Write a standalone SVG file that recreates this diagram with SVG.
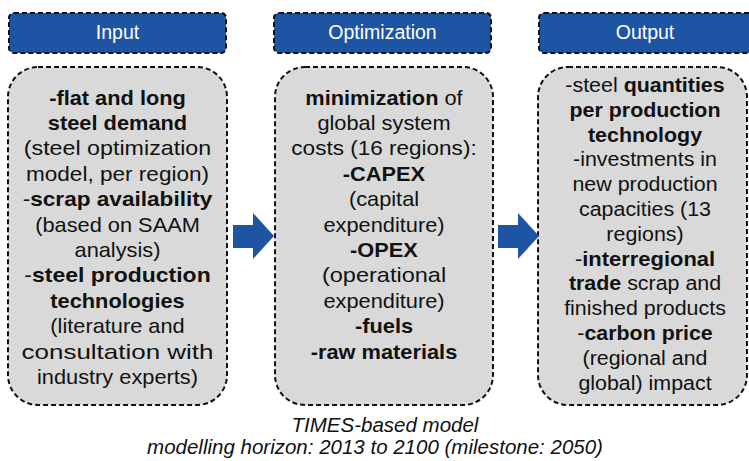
<svg xmlns="http://www.w3.org/2000/svg" width="749" height="461" viewBox="0 0 749 461">
<style>
.hdr{fill:#1D54A3;stroke:#111;stroke-width:2;stroke-dasharray:5 3}
.box{fill:#D9D9D9;stroke:#111;stroke-width:2;stroke-dasharray:5 3}
.ht{font-family:"Liberation Sans",Arial,sans-serif;font-size:19.5px;fill:#fff;text-anchor:middle}
.bt{font-family:"Liberation Sans",Arial,sans-serif;font-size:20px;fill:#111;text-anchor:middle}
.b{font-weight:bold}
.cap{font-family:"Liberation Sans",Arial,sans-serif;font-size:20.5px;font-style:italic;fill:#111;text-anchor:middle}
.arr{fill:#1D54A3}
</style>
<g id="input-header">
<rect class="hdr" x="9" y="13" width="217" height="40" rx="5"/>
<text class="ht" x="117.5" y="39">Input</text>
</g>
<g id="optimization-header">
<rect class="hdr" x="274" y="13" width="217" height="40" rx="5"/>
<text class="ht" x="382.5" y="39">Optimization</text>
</g>
<g id="output-header">
<rect class="hdr" x="539" y="13" width="217" height="40" rx="5"/>
<text class="ht" x="645" y="39">Output</text>
</g>
<g id="input">
<rect class="box" x="8" y="67" width="219" height="338" rx="30"/>
<g transform="translate(117.5,0) scale(1.09,1)">
<text class="bt" x="0" y="104.7"><tspan class="b">-flat and long</tspan></text>
<text class="bt" x="0" y="130.1"><tspan class="b">steel demand</tspan></text>
<text class="bt" x="0" y="155.5" textLength="172" lengthAdjust="spacingAndGlyphs">(steel optimization</text>
<text class="bt" x="0" y="180.9" textLength="168" lengthAdjust="spacingAndGlyphs">model, per region)</text>
<text class="bt" x="0" y="206.3" textLength="174" lengthAdjust="spacingAndGlyphs">-<tspan class="b">scrap availability</tspan></text>
<text class="bt" x="0" y="231.7">(based on SAAM</text>
<text class="bt" x="0" y="257.1">analysis)</text>
<text class="bt" x="0" y="282.5" textLength="171" lengthAdjust="spacingAndGlyphs">-<tspan class="b">steel production</tspan></text>
<text class="bt" x="0" y="307.9"><tspan class="b">technologies</tspan></text>
<text class="bt" x="0" y="333.3">(literature and</text>
<text class="bt" x="0" y="358.7" textLength="176" lengthAdjust="spacingAndGlyphs">consultation with</text>
<text class="bt" x="0" y="384.1">industry experts)</text>
</g>
</g>
<g id="optimization">
<rect class="box" x="275" y="67" width="218" height="338" rx="30"/>
<g transform="translate(384,0) scale(1.09,1)">
<text class="bt" x="0" y="104.7"><tspan class="b">minimization</tspan> of</text>
<text class="bt" x="0" y="130.1">global system</text>
<text class="bt" x="0" y="155.5" textLength="170" lengthAdjust="spacingAndGlyphs">costs (16 regions):</text>
<text class="bt" x="0" y="180.9"><tspan class="b">-CAPEX</tspan></text>
<text class="bt" x="0" y="206.3">(capital</text>
<text class="bt" x="0" y="231.7">expenditure)</text>
<text class="bt" x="0" y="257.1"><tspan class="b">-OPEX</tspan></text>
<text class="bt" x="0" y="282.5" textLength="114" lengthAdjust="spacingAndGlyphs">(operational</text>
<text class="bt" x="0" y="307.9">expenditure)</text>
<text class="bt" x="0" y="333.3"><tspan class="b">-fuels</tspan></text>
<text class="bt" x="0" y="358.7"><tspan class="b">-raw materials</tspan></text>
</g>
</g>
<g id="output">
<rect class="box" x="538" y="67" width="209" height="338" rx="30"/>
<g transform="translate(645,0) scale(1.07,1)">
<text class="bt" x="0" y="92">-steel <tspan class="b">quantities</tspan></text>
<text class="bt" x="0" y="116.8"><tspan class="b">per production</tspan></text>
<text class="bt" x="0" y="141.6"><tspan class="b">technology</tspan></text>
<text class="bt" x="0" y="166.4">-investments in</text>
<text class="bt" x="0" y="191.2">new production</text>
<text class="bt" x="0" y="216">capacities (13</text>
<text class="bt" x="0" y="240.8">regions)</text>
<text class="bt" x="0" y="265.6" textLength="131" lengthAdjust="spacingAndGlyphs">-<tspan class="b">interregional</tspan></text>
<text class="bt" x="0" y="290.4"><tspan class="b">trade</tspan> scrap and</text>
<text class="bt" x="0" y="315.2">finished products</text>
<text class="bt" x="0" y="340">-<tspan class="b">carbon price</tspan></text>
<text class="bt" x="0" y="364.8">(regional and</text>
<text class="bt" x="0" y="389.6">global) impact</text>
</g>
</g>
<g id="connectors">
<polygon class="arr" points="233,225 253,225 253,213 274,236 253,259 253,248 233,248"/>
<polygon class="arr" points="498,225 518,225 518,213 539,236 518,259 518,248 498,248"/>
</g>
<g id="caption">
<text class="cap" x="385" y="432">TIMES-based model</text>
<text class="cap" x="375" y="454">modelling horizon: 2013 to 2100 (milestone: 2050)</text>
</g>
</svg>
